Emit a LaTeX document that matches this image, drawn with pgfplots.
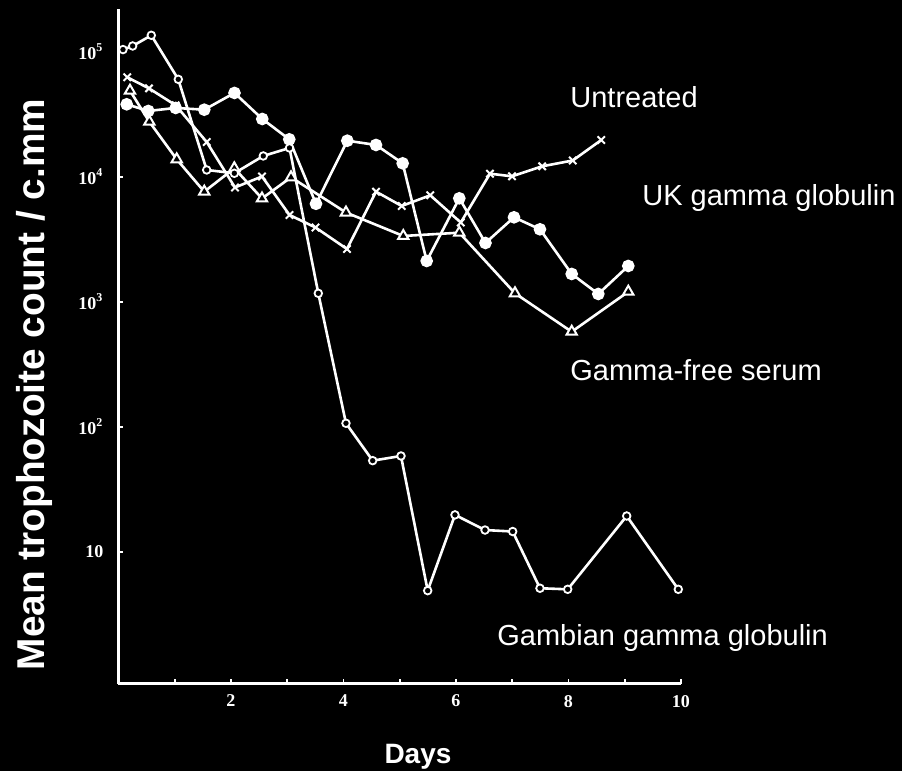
\documentclass[border=0pt]{standalone}
\usepackage{pgfplots}
\pgfplotsset{compat=1.18}
\usepackage{fontspec}
\setmainfont{Liberation Sans}
\newfontfamily\tickfont{Liberation Serif}

\pgfplotstableread{
x y
0.156 62400
0.542 50900
1.017 37250
1.568 18950
2.071 8200
2.551 10040
3.04 4940
3.502 3925
4.062 2640
4.578 7590
5.035 5830
5.543 7100
6.085 4300
6.604 10570
6.996 10070
7.532 12110
8.076 13480
8.583 19660
}\untreated

\pgfplotstableread{
x y
0.146 37950
0.530 33560
1.017 35480
1.525 34360
2.062 46770
2.556 28960
3.036 19910
3.511 6070
4.068 19410
4.578 17940
5.052 12790
5.479 2118
6.059 6715
6.524 2950
7.031 4732
7.493 3795
8.057 1667
8.53 1153
9.063 1931
}\ukgg

\pgfplotstableread{
x y
0.204 48760
0.548 27540
1.035 13770
1.525 7590
2.059 11680
2.551 6695
3.067 9890
4.044 5170
5.063 3355
6.059 3565
7.049 1167
8.057 575
9.063 1202
}\gammafree

\pgfplotstableread{
x y
0.08 104000
0.252 111100
0.583 135300
1.063 60120
1.568 11320
2.059 10650
2.574 14650
3.04 16980
3.552 1167
4.044 106.5
4.519 53.5
5.022 58.3
5.497 4.88
5.982 19.7
6.516 14.9
7.008 14.5
7.493 5.1
7.986 5.0
9.035 19.3
9.952 5.0
}\gambian

\begin{document}
\begin{tikzpicture}[x=1pt,y=1pt]
\fill[black] (-59.25,-43.5) rectangle (391.75,342);
\path[use as bounding box] (-59.25,-43.5) rectangle (391.75,342);
\begin{axis}[
  at={(0,0)}, anchor=south west,
  scale only axis, width=281.25pt, height=337.5pt,
  xmin=0, xmax=10, ymode=log, ymin=0.874, ymax=219600,
  axis x line*=bottom, axis y line*=left,
  axis line style={-, white, line width=1.5pt},
  clip=false,
  xtick={1,2,3,4,5,6,7,8,9,10},
  xticklabels={,2,,4,,6,,8,,10},
  ytick={10,100,1000,10000,100000},
  yticklabels={10,10\textsuperscript{2},10\textsuperscript{3},10\textsuperscript{4},10\textsuperscript{5}},
  tick align=inside,
  major tick length=2.5pt,
  minor tick num=0,
  yminorticks=false,
  tick style={white, line width=0.9pt},
  ticklabel style={font=\tickfont\bfseries\fontsize{9}{10}\selectfont, text=white},
  xticklabel style={yshift=-2pt},
  yticklabel style={xshift=-4pt},
  every axis plot/.append style={white, line width=1.3pt},
]
\addplot[mark=x, mark size=2.6pt, mark options={line width=1pt}] table[x=x,y=y] {\untreated};
\addplot[mark=*, mark size=2.5pt, mark options={fill=white}] table[x=x,y=y] {\ukgg};
\addplot[mark=triangle*, mark size=3pt, mark options={fill=black, draw=white, line width=1pt}] table[x=x,y=y] {\gammafree};
\addplot[mark=*, mark size=1.9pt, mark options={fill=black, draw=white, line width=0.9pt}] table[x=x,y=y] {\gambian};
\end{axis}
\node[anchor=base, rotate=90, inner sep=0, text=white, font=\bfseries\fontsize{19.4}{22}\selectfont] at (-36.75,149.75) {Mean trophozoite count / c.mm};
\node[anchor=base, inner sep=0, text=white, font=\bfseries\fontsize{14}{16}\selectfont] at (149.75,-40) {Days};
\begin{scope}[every node/.style={anchor=base west, inner sep=0, text=white, font=\fontsize{14.5}{17}\selectfont}]
\node at (225.75,288) {Untreated};
\node at (261.75,239) {UK gamma globulin};
\node at (225.75,151.5) {Gamma-free serum};
\node at (189.25,19) {Gambian gamma globulin};
\end{scope}
\end{tikzpicture}
\end{document}
